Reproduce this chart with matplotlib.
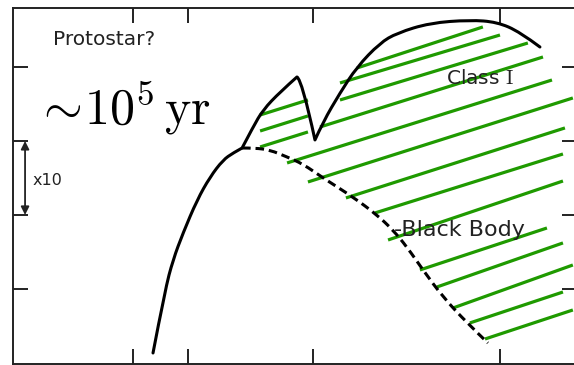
import numpy as np
import matplotlib
matplotlib.use('Agg')
import matplotlib.pyplot as plt
from matplotlib.path import Path
from matplotlib.patches import PathPatch

plt.rcParams['mathtext.fontset'] = 'cm'
plt.rcParams['font.family'] = ['DejaVu Sans']

# x = log10(wavelength), y = log10(lambda F_lambda), arbitrary zero
sed_x = [0.111, 0.178, 0.222, 0.278, 0.356, 0.428, 0.500, 0.556, 0.606,
         0.667, 0.722, 0.817, 0.911, 0.939, 1.011, 1.056, 1.150, 1.244,
         1.372, 1.467, 1.650, 1.872, 2.022, 2.150, 2.261]
sed_y = [-0.865, -0.014, 0.392, 0.757, 1.203, 1.514, 1.743, 1.838, 1.905,
         2.189, 2.419, 2.662, 2.865, 2.824, 2.014, 2.257, 2.649, 3.000,
         3.324, 3.459, 3.595, 3.635, 3.608, 3.473, 3.270]
# indices where the hand drawn curve has corners
sed_kinks = [8, 12, 14]

bb_x = [0.606, 0.678, 0.761, 0.856, 0.944, 1.056, 1.222, 1.356, 1.444,
        1.522, 1.611, 1.722, 1.856, 1.972]
bb_y = [1.905, 1.905, 1.878, 1.784, 1.689, 1.500, 1.243, 1.000, 0.797,
        0.568, 0.257, -0.108, -0.459, -0.730]

# hand drawn hatching of the infrared excess
hatch_x0 = [0.706, 0.706, 0.706, 1.244, 1.150, 1.150, 1.039, 0.856, 0.972,
            1.183, 1.344, 1.417, 1.594, 1.689, 1.778, 1.872, 1.956]
hatch_y0 = [2.351, 2.135, 1.919, 2.986, 2.784, 2.554, 2.189, 1.703, 1.446,
            1.230, 1.027, 0.662, 0.257, 0.027, -0.257, -0.459, -0.676]
hatch_x1 = [0.972, 0.972, 0.972, 1.944, 2.039, 2.194, 2.278, 2.328, 2.444,
            2.400, 2.389, 2.389, 2.300, 2.389, 2.444, 2.389, 2.444]
hatch_y1 = [2.554, 2.338, 2.122, 3.541, 3.432, 3.324, 3.135, 2.824, 2.581,
            2.176, 1.824, 1.459, 0.824, 0.622, 0.324, -0.041, -0.284]

xticks = [0.0, 0.305, 1.0, 2.04]
yticks = [0, 1, 2, 3]


def smooth_path(xs, ys, kinks=()):
    # quadratic beziers through midpoints, keeping corners at kinks
    pts = np.column_stack([xs, ys])
    cuts = [0] + list(kinks) + [len(pts) - 1]
    verts, codes = [pts[0]], [Path.MOVETO]
    for a, b in zip(cuts[:-1], cuts[1:]):
        seg = pts[a:b + 1]
        if len(seg) == 2:
            verts.append(seg[1])
            codes.append(Path.LINETO)
            continue
        for i in range(1, len(seg) - 1):
            end = seg[i + 1] if i == len(seg) - 2 else (seg[i] + seg[i + 1]) / 2
            verts += [seg[i], end]
            codes += [Path.CURVE3, Path.CURVE3]
    return Path(verts, codes)


fig = plt.figure(figsize=(5.74, 3.65), dpi=100)
ax = fig.add_axes([13 / 574, 1 / 365, 564 / 574, 356 / 365])
ax.set_xlim(-0.667, 2.467)
ax.set_ylim(-1.014, 3.797)

for x0, y0, x1, y1 in zip(hatch_x0, hatch_y0, hatch_x1, hatch_y1):
    ax.plot([x0, x1], [y0, y1], color='#1f9a00', lw=2.3,
            solid_capstyle='butt', zorder=2)

ax.add_patch(PathPatch(smooth_path(sed_x, sed_y, sed_kinks), fill=False,
                       edgecolor='black', lw=2.2, joinstyle='round',
                       capstyle='round', zorder=3))
bb = PathPatch(smooth_path(bb_x, bb_y), fill=False, edgecolor='black',
               lw=2.2, zorder=3)
bb.set_linestyle((0, (2.8, 1.6)))
ax.add_patch(bb)

ax.set_xticks(xticks)
ax.set_yticks(yticks)
ax.tick_params(direction='in', length=11, width=1.4, top=True, right=True,
               labelbottom=False, labelleft=False, color='#222222')
for s in ax.spines.values():
    s.set_linewidth(1.4)
    s.set_color('#222222')

ax.text(-0.445, 3.37, 'Protostar?', fontsize=14.5, color='#222222',
        ha='left', va='center')
ax.text(-0.545, 2.44, r'$\sim\!10^5\,\mathrm{yr}$', fontsize=36,
        color='black', ha='left', va='center')
ax.text(1.74, 2.85, r'Class $\mathrm{I}$', fontsize=14.5, color='#222222',
        ha='left', va='center')
ax.text(1.45, 0.8, '-Black Body', fontsize=16, color='#222222',
        ha='left', va='center')
ax.text(-0.56, 1.47, 'x10', fontsize=11.5, color='#222222',
        ha='left', va='center')
ax.annotate('', xy=(-0.6, 1.0), xytext=(-0.6, 2.0),
            arrowprops=dict(arrowstyle='<|-|>', color='#222222', lw=1.3,
                            shrinkA=0, shrinkB=0, mutation_scale=12))

plt.savefig('out.png', dpi=100)
